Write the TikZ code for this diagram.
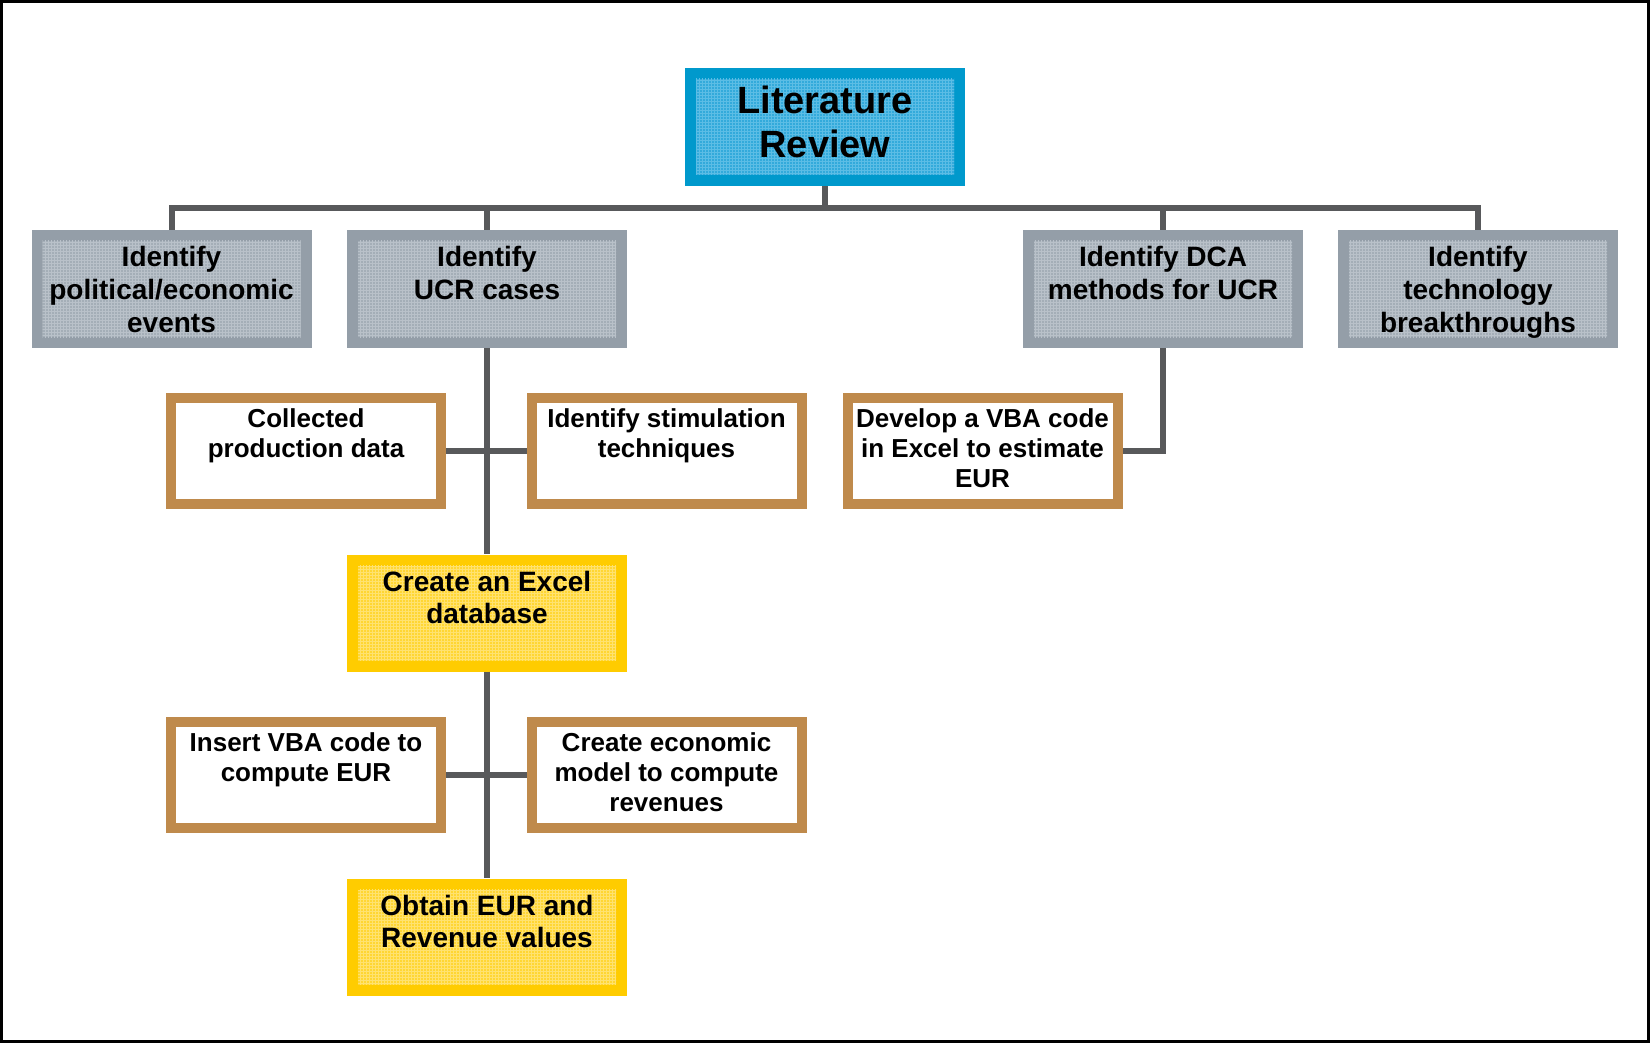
\documentclass[tikz,border=0pt]{standalone}
\usepackage{fontspec}
\setmainfont{Liberation Sans}
\usetikzlibrary{patterns,calc}
\definecolor{linkgray}{HTML}{58595B}
\definecolor{blueOut}{HTML}{0099CC}
\definecolor{blueIn}{HTML}{33AADB}
\definecolor{blueGrid}{HTML}{5CBDE5}
\definecolor{greyOut}{HTML}{949EA8}
\definecolor{greyIn}{HTML}{A4AEB7}
\definecolor{greyGrid}{HTML}{B9C1C9}
\definecolor{yellowOut}{HTML}{FFCC00}
\definecolor{yellowIn}{HTML}{FFD633}
\definecolor{yellowGrid}{HTML}{FFE270}
\definecolor{orangeLine}{HTML}{BF8A4C}
% text block: height, width, first baseline, lines
\newcommand{\boxtxt}[4]{\parbox[c][#1][t]{#2}{\centering\rule{0pt}{#3}#4}}
\begin{document}
\begin{tikzpicture}[x=1pt,y=-1pt,
  link/.style={draw=linkgray,line width=6pt},
  tile/.style n args={3}{rectangle,inner sep=0pt,minimum width=280pt,fill=#1,
    path picture={
      \fill[#2] ($(path picture bounding box.south west)+(11pt,11pt)$) rectangle ($(path picture bounding box.north east)+(-11pt,-11pt)$);
      \fill[pattern=grid,pattern color=#3] ($(path picture bounding box.south west)+(11pt,11pt)$) rectangle ($(path picture bounding box.north east)+(-11pt,-11pt)$);}},
  lit/.style={tile={blueOut}{blueIn}{blueGrid},font=\fontsize{38}{44}\selectfont\bfseries},
  grey/.style={tile={greyOut}{greyIn}{greyGrid},font=\fontsize{28}{32.5}\selectfont\bfseries},
  gold/.style={tile={yellowOut}{yellowIn}{yellowGrid},font=\fontsize{28}{32.5}\selectfont\bfseries},
  task/.style={rectangle,inner sep=0pt,minimum width=270pt,draw=orangeLine,line width=10pt,
    fill=white,outer sep=5pt,font=\fontsize{26}{30}\selectfont\bfseries}]
\useasboundingbox (0,0) rectangle (1650,1043);
\draw[line width=3pt] (1.5,1.5) rectangle (1648.5,1041.5);
% top
\node[lit] (lit) at (825,127) {\boxtxt{118pt}{270pt}{46pt}{Literature\\Review}};
% first level
\node[grey] (pol) at (171.5,289) {\boxtxt{118pt}{270pt}{37pt}{Identify\\political/economic\\events}};
\node[grey] (ucr) at (487,289) {\boxtxt{118pt}{270pt}{37pt}{Identify\\UCR cases}};
\node[grey] (dca) at (1163,289) {\boxtxt{118pt}{270pt}{37pt}{Identify DCA\\methods for UCR}};
\node[grey] (tech) at (1478,289) {\boxtxt{118pt}{270pt}{37pt}{Identify\\technology\\breakthroughs}};
% data steps
\node[task] (coll) at (306,451.25) {\boxtxt{106pt}{266pt}{29.5pt}{Collected\\production data}};
\node[task] (stim) at (666.5,451.25) {\boxtxt{106pt}{266pt}{29.5pt}{Identify stimulation\\techniques}};
\node[task] (vba) at (982.5,451.25) {\boxtxt{106pt}{266pt}{29.5pt}{Develop a VBA code\\in Excel to estimate\\EUR}};
\node[gold] (excel) at (487,613) {\boxtxt{117pt}{270pt}{36.5pt}{Create an Excel\\database}};
\node[task] (ins) at (306,775) {\boxtxt{106pt}{266pt}{29.5pt}{Insert VBA code to\\compute EUR}};
\node[task] (econ) at (666.5,775) {\boxtxt{106pt}{266pt}{29.5pt}{Create economic\\model to compute\\revenues}};
\node[gold] (obtain) at (487,937) {\boxtxt{117pt}{270pt}{36.5pt}{Obtain EUR and\\Revenue values}};
% connectors
\coordinate (bus) at (825,208);
\draw[link] (lit.south) -- (bus);
\draw[link] (pol.north) |- (bus) -| (tech.north);
\draw[link] (ucr.north) -- (ucr.north |- bus);
\draw[link] (dca.north) -- (dca.north |- bus);
\draw[link] (ucr.south) -- (excel.north);
\draw[link] (coll.east) -- (stim.west);
\draw[link] (dca.south) |- (vba.east);
\draw[link] (excel.south) -- (obtain.north);
\draw[link] (ins.east) -- (econ.west);
\end{tikzpicture}
\end{document}
